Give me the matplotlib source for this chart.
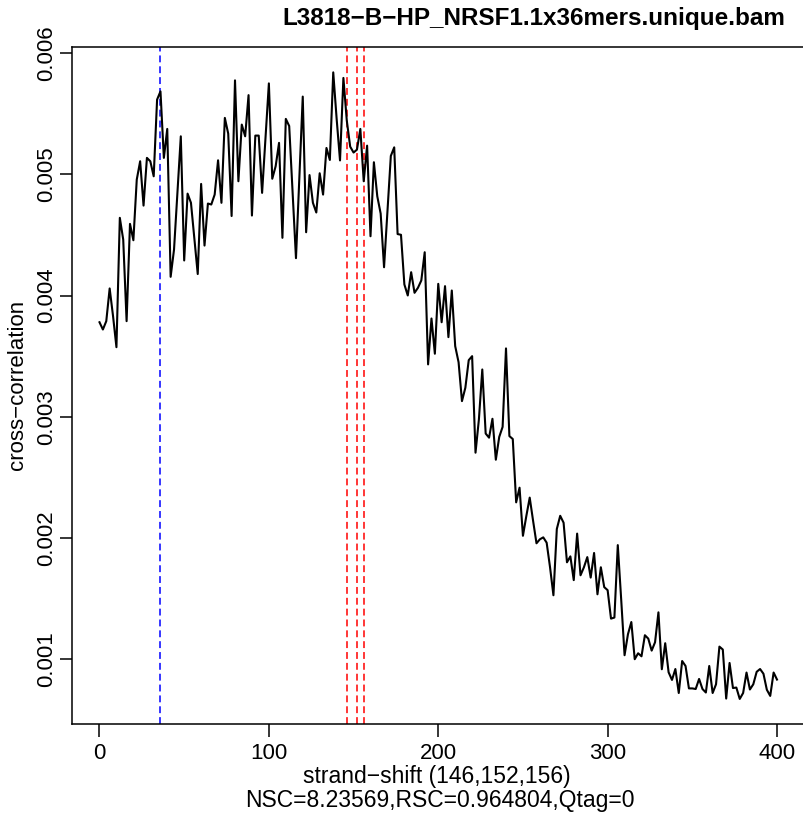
import matplotlib
matplotlib.use("Agg")
import matplotlib.pyplot as plt
import numpy as np

plt.rcParams["font.family"] = ["Liberation Sans", "DejaVu Sans"]

# strand shift grid (step 2) and cross-correlation values
shift = np.arange(0, 401, 2)
cc_000_098 = [
    0.003780, 0.003720, 0.003789, 0.004059, 0.003830, 0.003574, 0.004642, 0.004463, 0.003789, 0.004592,
    0.004457, 0.004958, 0.005109, 0.004743, 0.005137, 0.005109, 0.004985, 0.005618, 0.005686, 0.005137,
    0.005376, 0.004155, 0.004380, 0.004851, 0.005315, 0.004290, 0.004842, 0.004766, 0.004471, 0.004178,
    0.004922, 0.004413, 0.004760, 0.004752, 0.004834, 0.005117, 0.004766, 0.005467, 0.005337, 0.004657,
    0.005777, 0.004944, 0.005412, 0.005315, 0.005655, 0.004661, 0.005321, 0.005321, 0.004848, 0.005304,
]
cc_100_198 = [
    0.005752, 0.004965, 0.005068, 0.005261, 0.004477, 0.005459, 0.005400, 0.004849, 0.004309, 0.004973,
    0.005643, 0.004523, 0.004995, 0.004766, 0.004686, 0.005010, 0.004834, 0.005219, 0.005120, 0.005843,
    0.005461, 0.005116, 0.005797, 0.005445, 0.005230, 0.005181, 0.005205, 0.005376, 0.004944, 0.005238,
    0.004490, 0.005101, 0.004820, 0.004677, 0.004234, 0.004694, 0.005153, 0.005224, 0.004508, 0.004502,
    0.004092, 0.004001, 0.004193, 0.004023, 0.004064, 0.004125, 0.004358, 0.003432, 0.003811, 0.003520,
]
cc_200_298 = [
    0.004097, 0.003780, 0.004078, 0.003657, 0.004042, 0.003583, 0.003450, 0.003129, 0.003239, 0.003467,
    0.003500, 0.002703, 0.002978, 0.003390, 0.002861, 0.002827, 0.002983, 0.002645, 0.002833, 0.002916,
    0.003564, 0.002840, 0.002816, 0.002293, 0.002414, 0.002017, 0.002180, 0.002332, 0.002140, 0.001955,
    0.001988, 0.002004, 0.001960, 0.001757, 0.001526, 0.002073, 0.002182, 0.002125, 0.001798, 0.001847,
    0.001651, 0.002035, 0.001691, 0.001757, 0.001841, 0.001672, 0.001875, 0.001534, 0.001757, 0.001593,
]
cc_300_400 = [
    0.001568, 0.001333, 0.001342, 0.001940, 0.001493, 0.001031, 0.001204, 0.001305, 0.000998, 0.001047,
    0.001022, 0.001196, 0.001168, 0.001069, 0.001138, 0.001385, 0.000915, 0.001130, 0.000890, 0.000827,
    0.000917, 0.000719, 0.000983, 0.000942, 0.000757, 0.000757, 0.000752, 0.000835, 0.000752, 0.000723,
    0.000942, 0.000719, 0.000791, 0.001102, 0.001078, 0.000673, 0.000967, 0.000760, 0.000764, 0.000670,
    0.000719, 0.000888, 0.000748, 0.000791, 0.000894, 0.000917, 0.000878, 0.000746, 0.000695, 0.000888,
    0.000830,
]
cc = cc_000_098 + cc_100_198 + cc_200_298 + cc_300_400

read_len = 36
peak_shifts = [146, 152, 156]
xticks = [0, 100, 200, 300, 400]
yticks = [0.001, 0.002, 0.003, 0.004, 0.005, 0.006]
ylabels = ["0.001", "0.002", "0.003", "0.004", "0.005", "0.006"]

title = "L3818\u2212B\u2212HP_NRSF1.1x36mers.unique.bam"
xlab1 = "strand\u2212shift (146,152,156)"
xlab2 = "NSC=8.23569,RSC=0.964804,Qtag=0"

W, H = 804, 819
fig = plt.figure(figsize=(W / 100, H / 100), dpi=100)
ax = fig.add_axes([72.4 / W, (H - 724) / H, 731.7 / W, (724 - 47.3) / H])

ax.plot(shift, cc, color="black", lw=1.5, zorder=3)
ax.axvline(read_len, color="blue", lw=1.1, ls=(0, (4.5, 2.6)), zorder=2)
for s in peak_shifts:
    ax.axvline(s, color="red", lw=1.1, ls=(0, (4.5, 2.6)), zorder=2)
ax.margins(x=0.04, y=0.04)

ax.set_xticks(xticks)
ax.set_xticklabels([str(t) for t in xticks])
ax.set_yticks(yticks)
ax.set_yticklabels(ylabels, rotation=90, va="center")
ax.tick_params(axis="both", length=9, width=1.1, labelsize=16, color="black")
ax.tick_params(axis="x", pad=5)
ax.tick_params(axis="y", pad=2)
for sp in ax.spines.values():
    sp.set_linewidth(1.1)

fig.text(534 / W, 1 - 18 / H, title, ha="center", va="center", fontsize=17.5, fontweight="bold")
fig.text(437 / W, 1 - 777 / H, xlab1, ha="center", va="center", fontsize=16.5)
fig.text(440 / W, 1 - 801 / H, xlab2, ha="center", va="center", fontsize=16.5)
fig.text(18 / W, 1 - 385 / H, "cross\u2212correlation", ha="center", va="center",
         rotation=90, fontsize=16)

fig.savefig("out.png", dpi=100)
